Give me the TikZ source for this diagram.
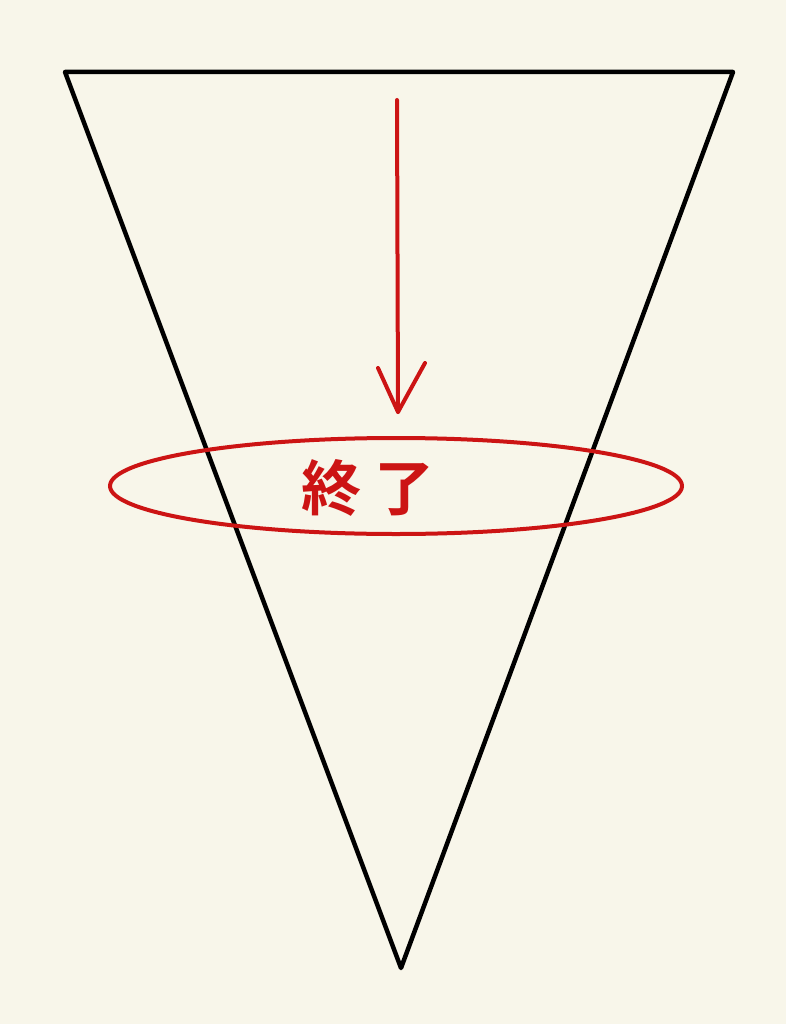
\documentclass[tikz,border=0pt]{standalone}
\usepackage{fontspec}
\usetikzlibrary{shapes.geometric}
\newfontfamily\cjk{Noto Sans CJK JP}[BoldFont={Noto Sans CJK JP Bold}]
\definecolor{paper}{HTML}{F8F6EA}
\definecolor{pen}{HTML}{CC1414}
\begin{document}
\begin{tikzpicture}[x=1pt,y=-1pt,
  outline/.style={draw=black,line width=4.5pt,line join=round,line cap=round},
  redline/.style={draw=pen,line width=4pt,line cap=round,line join=round}]
\fill[paper] (0,0) rectangle (786,1024);
\useasboundingbox (0,0) rectangle (786,1024);
\coordinate (tl) at (65,72);
\coordinate (tr) at (733,72);
\coordinate (bt) at (401,968);
\draw[outline] (tl) -- (tr) -- (bt) -- cycle;
\coordinate (as) at (397,100);
\coordinate (ae) at (398,412);
\coordinate (al) at (378,368);
\coordinate (ar) at (425,363);
\draw[redline] (as) -- (ae);
\draw[redline] (al) -- (ae) -- (ar);
\node[draw=pen,line width=4pt,ellipse,minimum width=572pt,minimum height=96pt,inner sep=0pt] (ring) at (396,486) {};
\node[text=pen,font=\cjk\bfseries\fontsize{60}{60}\selectfont] (lbl) at (368,488) {終\hspace{14pt}了};
\end{tikzpicture}
\end{document}
